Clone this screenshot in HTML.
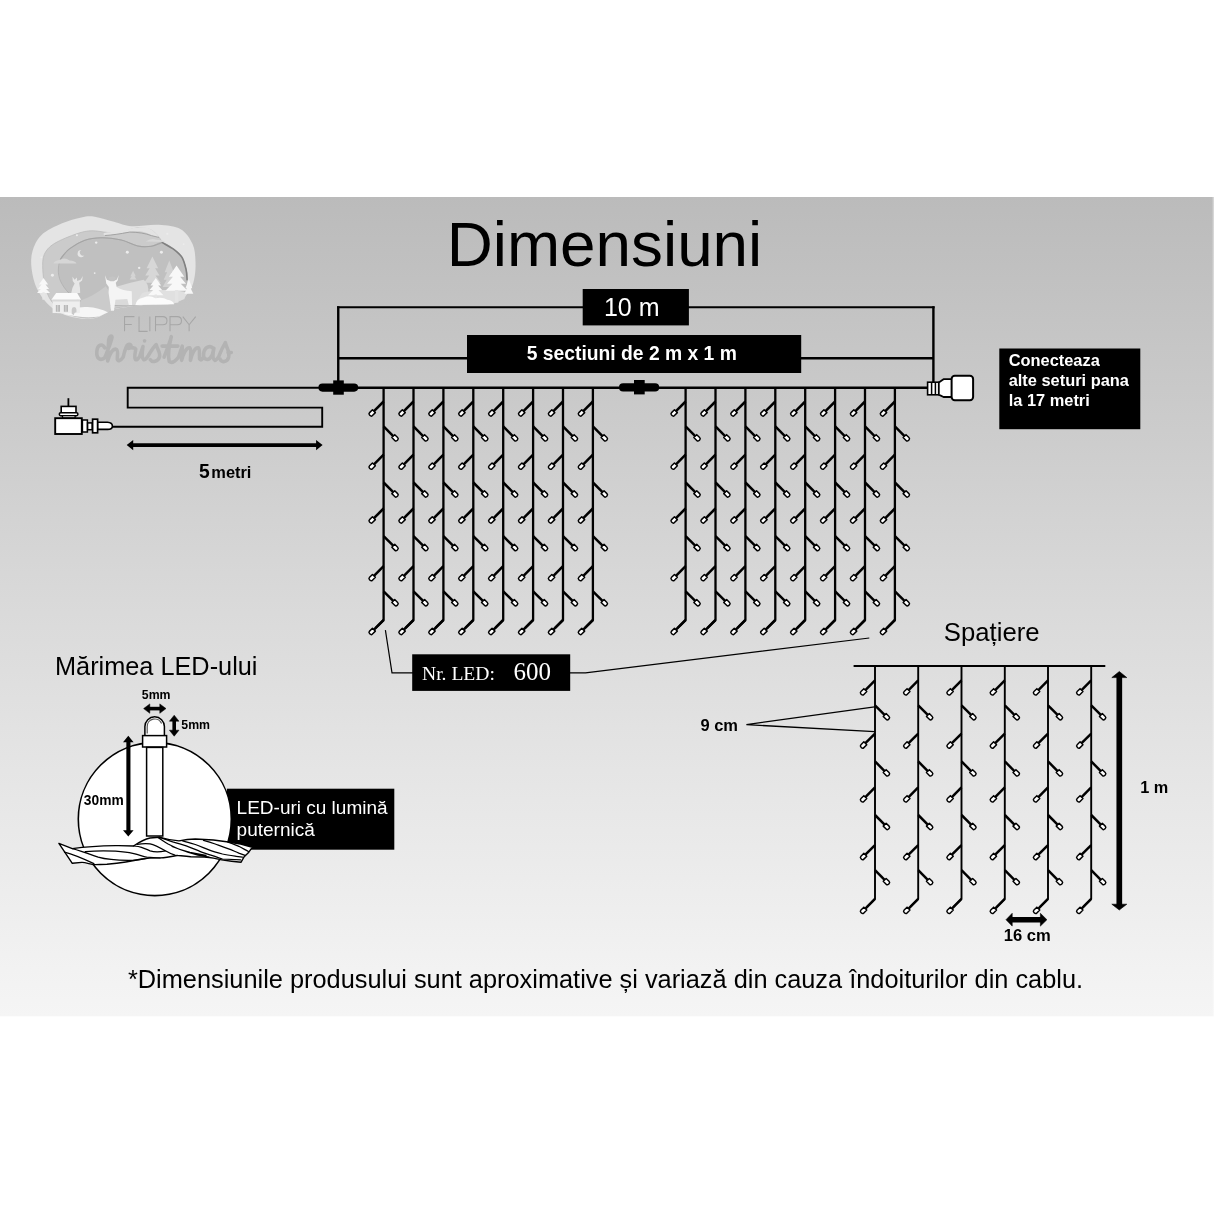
<!DOCTYPE html>
<html><head><meta charset="utf-8"><title>Dimensiuni</title>
<style>
html,body{margin:0;padding:0;background:#fff;}
body{width:1214px;height:1214px;overflow:hidden;font-family:"Liberation Sans",sans-serif;}
svg{display:block;position:absolute;left:0;top:0;will-change:transform;}
text{font-family:"Liberation Sans",sans-serif;fill:#000;}
.b{font-weight:bold;}
.w{fill:#fff;}
.ser{font-family:"Liberation Serif",serif;}
.s1{stroke:#000;stroke-width:2.3;fill:none;}
.s2{stroke:#000;stroke-width:1.9;fill:none;}
.ln{stroke:#000;fill:none;}
.wb{fill:#fff;stroke:#000;}
</style></head><body>
<svg width="1214" height="1214" viewBox="0 0 1214 1214">
<defs>
<linearGradient id="bg" x1="0" y1="0" x2="0" y2="1">
<stop offset="0" stop-color="#bbbbbb"/><stop offset="0.285" stop-color="#cccccc"/><stop offset="0.507" stop-color="#dadada"/><stop offset="0.736" stop-color="#e7e7e7"/><stop offset="1" stop-color="#f5f5f5"/>
</linearGradient>
<g id="lR"><g transform="rotate(45)"><path d="M0 0H13.6" stroke="#000" stroke-width="2.5" fill="none"/><path d="M13.7 -2.05H17.8Q19.5 -2.05 19.5 -0.4V0.4Q19.5 2.05 17.8 2.05H13.7Z" fill="#fff" stroke="#000" stroke-width="1.45" stroke-linejoin="round"/></g></g>
<g id="lL"><g transform="rotate(135)"><path d="M0 0H13.6" stroke="#000" stroke-width="2.5" fill="none"/><path d="M13.7 -2.05H17.8Q19.5 -2.05 19.5 -0.4V0.4Q19.5 2.05 17.8 2.05H13.7Z" fill="#fff" stroke="#000" stroke-width="1.45" stroke-linejoin="round"/></g></g>
<filter id="lb" x="-5%" y="-5%" width="110%" height="110%"><feGaussianBlur stdDeviation="4.5"/></filter>
</defs>
<rect x="0" y="197" width="1214" height="819.3" fill="url(#bg)"/>
<rect x="1212.6" y="197" width="1.4" height="819.3" fill="#fff" opacity="0.4"/>

<!-- LOGO -->
<g id="logo">
<g transform="translate(25,210) scale(0.14828)" filter="url(#lb)"><path d="M380 50C417 42 433 40 470 45C507 50 558 69 600 80C642 91 670 107 720 110C770 113 845 97 900 100C955 103 1012 108 1050 130C1088 152 1113 193 1130 230C1147 267 1148 310 1150 350C1152 390 1148 435 1140 470C1132 505 1123 533 1100 560C1077 587 1050 617 1000 630C950 643 867 633 800 640C733 647 650 657 600 670C550 683 533 709 500 720C467 731 442 738 400 735C358 732 292 718 250 700C208 682 178 658 150 630C122 602 98 568 80 530C62 492 50 442 45 400C40 358 39 318 50 280C61 242 77 202 110 170C143 138 205 110 250 90C295 70 343 58 380 50Z" fill="#e4e4e4"/><path d="M130 300C143 271 163 248 200 225C237 202 308 174 350 160C392 146 415 141 450 140C485 139 527 150 560 152C593 154 617 155 650 150C683 145 727 122 760 120C793 118 826 124 850 135C874 146 892 170 905 185C918 200 914 203 930 222C946 241 982 262 1000 300C1018 338 1040 400 1040 450C1040 500 1040 569 1000 600C960 631 867 624 800 635C733 646 650 652 600 665C550 678 533 704 500 715C467 726 440 732 400 728C360 724 298 710 260 690C222 670 196 640 175 610C154 580 144 545 135 510C126 475 121 435 120 400C119 365 117 329 130 300Z" fill="#cbcbcb" stroke="#b9b9b9" stroke-width="5"/><path d="M540 153C557 148 607 148 640 143C673 138 711 124 739 120C767 116 786 114 806 117C826 120 843 126 859 137C875 148 904 178 903 183C902 188 871 176 853 170C835 164 818 151 793 147C768 143 737 143 706 146C675 149 634 161 606 165C578 169 551 172 540 170C529 168 523 158 540 153Z" fill="#e3e3e3"/><path d="M540 172Q606 168 706 149Q793 150 853 173L903 185" fill="none" stroke="#9c9c9c" stroke-width="6"/><path d="M240 330C252 304 273 283 300 262C327 241 363 218 400 205C437 192 478 187 520 187C562 187 610 194 650 203C690 212 727 235 760 242C793 249 822 249 850 245C878 241 900 216 926 220C952 224 984 250 1006 267C1028 284 1046 298 1059 320C1072 342 1080 375 1086 400C1092 425 1095 443 1093 470C1091 497 1090 535 1075 560C1060 585 1062 607 1000 620C938 633 792 637 700 640C608 643 513 650 450 640C387 630 353 603 320 580C287 557 266 527 250 500C234 473 227 448 225 420C223 392 228 356 240 330Z" fill="#c0c0c0" stroke="#adadad" stroke-width="5"/><path d="M240 330C250 319 273 283 300 262C327 241 363 218 400 205C437 192 478 187 520 187C562 187 610 194 650 203C690 212 727 235 760 242C793 249 822 249 850 245C878 241 913 224 926 220" fill="none" stroke="#a4a4a4" stroke-width="7" stroke-linecap="round"/><path d="M926 220C939 228 984 250 1006 267C1028 284 1046 298 1059 320C1072 342 1080 375 1086 400C1092 425 1092 458 1093 470" fill="none" stroke="#808080" stroke-width="11" stroke-linecap="round"/><path d="M815 213Q850 185 885 200Q930 200 945 216Z" fill="#d8d8d8"/><path d="M192 360Q200 338 240 335Q270 318 300 340Q340 342 347 360Z" fill="#d6d6d6"/><path d="M380 270A24 24 0 1 0 400 305A20 20 0 0 1 380 270Z" fill="#e6e6e6"/><circle cx="480" cy="220" r="8" fill="#ececec"/><circle cx="690" cy="285" r="10" fill="#ececec"/><circle cx="920" cy="285" r="10" fill="#ececec"/><circle cx="185" cy="440" r="10" fill="#ececec"/><circle cx="470" cy="425" r="6" fill="#ececec"/><circle cx="770" cy="390" r="8" fill="#ececec"/><circle cx="350" cy="170" r="7" fill="#ececec"/><circle cx="960" cy="160" r="7" fill="#ececec"/><circle cx="110" cy="320" r="6" fill="#ececec"/><circle cx="1070" cy="230" r="6" fill="#ececec"/><path d="M859 313L898 392H820ZM859 362L907 441H811ZM859 411L915 490H803Z" fill="#d7d7d7"/><path d="M973 340L1004 420H942ZM973 390L1011 470H935ZM973 440L1018 520H928Z" fill="#d3d3d3"/><path d="M729 410L747 446H711ZM729 432L752 468H706Z" fill="#d4d4d4"/><path d="M610 520Q700 490 800 470Q840 500 830 560L740 640H600Z" fill="#dadada"/><path d="M320 450L335 470L350 455L352 478L375 470L390 445L385 475L365 490Q372 520 372 560H312Q318 520 335 495L322 478Z" fill="#e6e6e6"/><path d="M375 610Q450 590 545 515L575 560V680H480L375 660Z" fill="#cbcbcb"/><path d="M540 440L552 470L575 478L600 478L620 468L632 438L625 475L612 490L618 520Q660 545 720 548L722 640L700 640L690 600L610 605L600 680H580L570 600Q560 560 565 520L548 495Z" fill="#f4f4f4"/><path d="M565 455Q590 440 612 458L600 480H575Z" fill="#c4c4c4"/><path d="M740 640L790 560Q860 535 1000 540L1092 555L1075 600L1000 632Z" fill="#e0e0e0"/><path d="M1022 375L1074 451H970ZM1022 422L1086 498H958ZM1022 469L1097 545H947Z" fill="#f8f8f8"/><rect x="1012" y="540" width="22" height="85" fill="#e4e4e4"/><path d="M882 458L918 510H846ZM882 490L926 542H838ZM882 523L934 575H830Z" fill="#f8f8f8"/><rect x="874" y="570" width="16" height="65" fill="#e4e4e4"/><path d="M1105 465L1128 527H1082ZM1105 503L1135 565H1075Z" fill="#f6f6f6"/><path d="M745 640Q750 600 800 590Q840 570 880 595Q930 585 960 605Q1000 610 1005 635Z" fill="#fbfbfb"/><path d="M125 458L156 503H94ZM125 486L162 532H88ZM125 515L169 560H81Z" fill="#f8f8f8"/><rect x="117" y="555" width="16" height="50" fill="#e6e6e6"/><path d="M180 690L260 700Q330 650 420 655Q500 660 560 690L500 718Q400 735 250 700Z" fill="#f6f6f6"/><path d="M178 605L210 560H352L378 605Z" fill="#fafafa"/><rect x="186" y="605" width="184" height="90" fill="#eeeeee"/><path d="M186 605H370V617H186Z" fill="#d8d8d8"/><path d="M208 640H236V686H208ZM262 640H290V686H262Z" fill="#b8b8b8"/><path d="M221 640V686M276 640V686" stroke="#eee" stroke-width="4"/><path d="M315 700V672Q315 655 331 655Q347 655 347 672V690Q330 690 330 710Z" fill="#c9c9c9"/></g><g transform="translate(85,305) scale(0.1318)" fill="none" stroke-linecap="round" stroke-linejoin="round"><path d="M375 88H300V200M300 148H355M410 88V200H475M492 88V200M535 200V88H590Q622 88 622 119Q622 150 590 150H535M645 200V88H700Q732 88 732 119Q732 150 700 150H645M742 88L790 150L840 88M790 150V200" stroke="#a6a6a6" stroke-width="8" stroke-linecap="butt" stroke-linejoin="miter"/><path d="M150 325C130 290 95 300 90 350C85 400 110 430 150 400C170 350 200 280 205 245C205 228 185 232 180 262C175 320 172 380 172 425C185 380 205 330 235 335C255 340 245 380 245 410C250 430 270 425 290 395C300 350 310 320 320 305C340 290 355 300 345 320C335 335 315 330 320 310M345 320C360 330 380 320 385 335C380 370 370 400 385 415C395 420 405 405 415 390C425 360 435 330 440 315C435 350 425 400 445 415C460 420 470 400 480 385C500 350 520 320 540 300C545 330 575 360 565 395C555 430 510 440 495 415M600 395C620 340 650 270 655 240C640 300 625 380 640 430C660 445 690 420 710 395M585 312H705M710 395C722 360 732 330 738 312C738 350 733 390 733 420C745 370 770 320 795 325C810 335 800 380 800 420C810 370 835 320 860 325C875 335 865 390 870 410C880 425 890 410 900 395M975 332C950 300 905 320 900 370C895 420 940 430 965 380C970 360 975 340 978 328C970 370 965 410 985 420C995 420 1005 405 1015 390C1030 350 1050 310 1065 285C1070 320 1100 350 1090 395C1080 435 1035 440 1025 410M1085 360H1110" stroke="#b3b3b3" stroke-width="27"/><circle cx="452" cy="272" r="14" fill="#b3b3b3"/></g>
</g>

<!-- TITLE -->
<text x="604.5" y="265.8" font-size="63.8" text-anchor="middle">Dimensiuni</text>

<!-- top bracket lines -->
<path class="ln" stroke-width="2.1" d="M337.1 307.3H934.6"/>
<path class="ln" stroke-width="2.4" d="M338.25 387V306.3M933.4 387V306.3"/>
<path class="ln" stroke-width="2.5" d="M338.3 358.2H933.4"/>
<!-- main line -->
<path class="ln" stroke-width="2.5" d="M320 387.7H928"/>
<!-- feed cable -->
<path class="ln" stroke-width="1.9" d="M320 387.8H127.7V407.6H322.2V426.8H112"/>

<!-- 10 m box -->
<rect x="582.7" y="289" width="106.2" height="36.4" fill="#000"/>
<text x="631.7" y="315.7" font-size="25" text-anchor="middle" class="w">10 m</text>
<!-- sections box -->
<rect x="467" y="335" width="334.2" height="38" fill="#000"/>
<text x="631.8" y="360.2" font-size="19.3" text-anchor="middle" class="w b">5 sectiuni de 2 m x 1 m</text>

<!-- connector 1 -->
<rect x="318.4" y="383.5" width="39.8" height="8.2" rx="4.1" fill="#000"/>
<rect x="333.2" y="380.4" width="10.6" height="14.3" fill="#000"/>
<!-- connector 2 -->
<rect x="619" y="383.3" width="40.2" height="8.2" rx="4.1" fill="#000"/>
<rect x="634" y="380" width="10.7" height="14.4" fill="#000"/>

<!-- strands main -->
<path d="M383.6 387.6V620.0l-8 8" class="s1"/>
<use href="#lL" x="383.6" y="401.5"/>
<use href="#lL" x="383.6" y="454.7"/>
<use href="#lL" x="383.6" y="508.5"/>
<use href="#lL" x="383.6" y="566.2"/>
<use href="#lR" x="383.6" y="426.4"/>
<use href="#lR" x="383.6" y="482.5"/>
<use href="#lR" x="383.6" y="536.1"/>
<use href="#lR" x="383.6" y="591.3"/>
<use href="#lL" x="383.6" y="620.0"/>
<path d="M413.5 387.6V620.0l-8 8" class="s1"/>
<use href="#lL" x="413.5" y="401.5"/>
<use href="#lL" x="413.5" y="454.7"/>
<use href="#lL" x="413.5" y="508.5"/>
<use href="#lL" x="413.5" y="566.2"/>
<use href="#lR" x="413.5" y="426.4"/>
<use href="#lR" x="413.5" y="482.5"/>
<use href="#lR" x="413.5" y="536.1"/>
<use href="#lR" x="413.5" y="591.3"/>
<use href="#lL" x="413.5" y="620.0"/>
<path d="M443.4 387.6V620.0l-8 8" class="s1"/>
<use href="#lL" x="443.4" y="401.5"/>
<use href="#lL" x="443.4" y="454.7"/>
<use href="#lL" x="443.4" y="508.5"/>
<use href="#lL" x="443.4" y="566.2"/>
<use href="#lR" x="443.4" y="426.4"/>
<use href="#lR" x="443.4" y="482.5"/>
<use href="#lR" x="443.4" y="536.1"/>
<use href="#lR" x="443.4" y="591.3"/>
<use href="#lL" x="443.4" y="620.0"/>
<path d="M473.3 387.6V620.0l-8 8" class="s1"/>
<use href="#lL" x="473.3" y="401.5"/>
<use href="#lL" x="473.3" y="454.7"/>
<use href="#lL" x="473.3" y="508.5"/>
<use href="#lL" x="473.3" y="566.2"/>
<use href="#lR" x="473.3" y="426.4"/>
<use href="#lR" x="473.3" y="482.5"/>
<use href="#lR" x="473.3" y="536.1"/>
<use href="#lR" x="473.3" y="591.3"/>
<use href="#lL" x="473.3" y="620.0"/>
<path d="M503.2 387.6V620.0l-8 8" class="s1"/>
<use href="#lL" x="503.2" y="401.5"/>
<use href="#lL" x="503.2" y="454.7"/>
<use href="#lL" x="503.2" y="508.5"/>
<use href="#lL" x="503.2" y="566.2"/>
<use href="#lR" x="503.2" y="426.4"/>
<use href="#lR" x="503.2" y="482.5"/>
<use href="#lR" x="503.2" y="536.1"/>
<use href="#lR" x="503.2" y="591.3"/>
<use href="#lL" x="503.2" y="620.0"/>
<path d="M533.1 387.6V620.0l-8 8" class="s1"/>
<use href="#lL" x="533.1" y="401.5"/>
<use href="#lL" x="533.1" y="454.7"/>
<use href="#lL" x="533.1" y="508.5"/>
<use href="#lL" x="533.1" y="566.2"/>
<use href="#lR" x="533.1" y="426.4"/>
<use href="#lR" x="533.1" y="482.5"/>
<use href="#lR" x="533.1" y="536.1"/>
<use href="#lR" x="533.1" y="591.3"/>
<use href="#lL" x="533.1" y="620.0"/>
<path d="M563.0 387.6V620.0l-8 8" class="s1"/>
<use href="#lL" x="563.0" y="401.5"/>
<use href="#lL" x="563.0" y="454.7"/>
<use href="#lL" x="563.0" y="508.5"/>
<use href="#lL" x="563.0" y="566.2"/>
<use href="#lR" x="563.0" y="426.4"/>
<use href="#lR" x="563.0" y="482.5"/>
<use href="#lR" x="563.0" y="536.1"/>
<use href="#lR" x="563.0" y="591.3"/>
<use href="#lL" x="563.0" y="620.0"/>
<path d="M592.9 387.6V620.0l-8 8" class="s1"/>
<use href="#lL" x="592.9" y="401.5"/>
<use href="#lL" x="592.9" y="454.7"/>
<use href="#lL" x="592.9" y="508.5"/>
<use href="#lL" x="592.9" y="566.2"/>
<use href="#lR" x="592.9" y="426.4"/>
<use href="#lR" x="592.9" y="482.5"/>
<use href="#lR" x="592.9" y="536.1"/>
<use href="#lR" x="592.9" y="591.3"/>
<use href="#lL" x="592.9" y="620.0"/>
<path d="M685.6 387.6V620.0l-8 8" class="s1"/>
<use href="#lL" x="685.6" y="401.5"/>
<use href="#lL" x="685.6" y="454.7"/>
<use href="#lL" x="685.6" y="508.5"/>
<use href="#lL" x="685.6" y="566.2"/>
<use href="#lR" x="685.6" y="426.4"/>
<use href="#lR" x="685.6" y="482.5"/>
<use href="#lR" x="685.6" y="536.1"/>
<use href="#lR" x="685.6" y="591.3"/>
<use href="#lL" x="685.6" y="620.0"/>
<path d="M715.5 387.6V620.0l-8 8" class="s1"/>
<use href="#lL" x="715.5" y="401.5"/>
<use href="#lL" x="715.5" y="454.7"/>
<use href="#lL" x="715.5" y="508.5"/>
<use href="#lL" x="715.5" y="566.2"/>
<use href="#lR" x="715.5" y="426.4"/>
<use href="#lR" x="715.5" y="482.5"/>
<use href="#lR" x="715.5" y="536.1"/>
<use href="#lR" x="715.5" y="591.3"/>
<use href="#lL" x="715.5" y="620.0"/>
<path d="M745.4 387.6V620.0l-8 8" class="s1"/>
<use href="#lL" x="745.4" y="401.5"/>
<use href="#lL" x="745.4" y="454.7"/>
<use href="#lL" x="745.4" y="508.5"/>
<use href="#lL" x="745.4" y="566.2"/>
<use href="#lR" x="745.4" y="426.4"/>
<use href="#lR" x="745.4" y="482.5"/>
<use href="#lR" x="745.4" y="536.1"/>
<use href="#lR" x="745.4" y="591.3"/>
<use href="#lL" x="745.4" y="620.0"/>
<path d="M775.3 387.6V620.0l-8 8" class="s1"/>
<use href="#lL" x="775.3" y="401.5"/>
<use href="#lL" x="775.3" y="454.7"/>
<use href="#lL" x="775.3" y="508.5"/>
<use href="#lL" x="775.3" y="566.2"/>
<use href="#lR" x="775.3" y="426.4"/>
<use href="#lR" x="775.3" y="482.5"/>
<use href="#lR" x="775.3" y="536.1"/>
<use href="#lR" x="775.3" y="591.3"/>
<use href="#lL" x="775.3" y="620.0"/>
<path d="M805.2 387.6V620.0l-8 8" class="s1"/>
<use href="#lL" x="805.2" y="401.5"/>
<use href="#lL" x="805.2" y="454.7"/>
<use href="#lL" x="805.2" y="508.5"/>
<use href="#lL" x="805.2" y="566.2"/>
<use href="#lR" x="805.2" y="426.4"/>
<use href="#lR" x="805.2" y="482.5"/>
<use href="#lR" x="805.2" y="536.1"/>
<use href="#lR" x="805.2" y="591.3"/>
<use href="#lL" x="805.2" y="620.0"/>
<path d="M835.1 387.6V620.0l-8 8" class="s1"/>
<use href="#lL" x="835.1" y="401.5"/>
<use href="#lL" x="835.1" y="454.7"/>
<use href="#lL" x="835.1" y="508.5"/>
<use href="#lL" x="835.1" y="566.2"/>
<use href="#lR" x="835.1" y="426.4"/>
<use href="#lR" x="835.1" y="482.5"/>
<use href="#lR" x="835.1" y="536.1"/>
<use href="#lR" x="835.1" y="591.3"/>
<use href="#lL" x="835.1" y="620.0"/>
<path d="M865.0 387.6V620.0l-8 8" class="s1"/>
<use href="#lL" x="865.0" y="401.5"/>
<use href="#lL" x="865.0" y="454.7"/>
<use href="#lL" x="865.0" y="508.5"/>
<use href="#lL" x="865.0" y="566.2"/>
<use href="#lR" x="865.0" y="426.4"/>
<use href="#lR" x="865.0" y="482.5"/>
<use href="#lR" x="865.0" y="536.1"/>
<use href="#lR" x="865.0" y="591.3"/>
<use href="#lL" x="865.0" y="620.0"/>
<path d="M894.9 387.6V620.0l-8 8" class="s1"/>
<use href="#lL" x="894.9" y="401.5"/>
<use href="#lL" x="894.9" y="454.7"/>
<use href="#lL" x="894.9" y="508.5"/>
<use href="#lL" x="894.9" y="566.2"/>
<use href="#lR" x="894.9" y="426.4"/>
<use href="#lR" x="894.9" y="482.5"/>
<use href="#lR" x="894.9" y="536.1"/>
<use href="#lR" x="894.9" y="591.3"/>
<use href="#lL" x="894.9" y="620.0"/>

<!-- end socket -->
<g>
<rect x="927.6" y="382.2" width="11.2" height="12.6" fill="#fff" stroke="#000" stroke-width="1.6"/>
<path d="M931.6 382.2V394.8M935.4 382.2V394.8" stroke="#000" stroke-width="1.5" fill="none"/>
<path d="M938.8 382.4L943.5 379.2H952V397H943.5L938.8 394.6Z" fill="#fff" stroke="#000" stroke-width="1.8" stroke-linejoin="round"/>
<rect x="951.6" y="375.8" width="21.5" height="24.4" rx="3.2" fill="#fff" stroke="#000" stroke-width="2"/>
</g>

<!-- connect box -->
<rect x="999.3" y="348.5" width="141" height="80.7" fill="#000"/>
<text font-size="16.4" class="w b"><tspan x="1008.7" y="365.7">Conecteaza</tspan><tspan x="1008.7" y="385.8">alte seturi pana</tspan><tspan x="1008.7" y="405.7">la 17 metri</tspan></text>

<!-- plug -->
<g>
<path d="M68.4 398.2V406.6" class="ln" stroke-width="1.8"/>
<rect x="61.2" y="406.4" width="14.8" height="6.4" class="wb" stroke-width="1.6"/>
<rect x="59.3" y="412.7" width="18.6" height="3" rx="1.4" class="wb" stroke-width="1.5"/>
<rect x="62.5" y="415.7" width="12.6" height="2.4" class="wb" stroke-width="1.3"/>
<rect x="55.2" y="418.2" width="26.6" height="15.8" class="wb" stroke-width="1.9"/>
<rect x="82.4" y="420" width="5" height="12" class="wb" stroke-width="1.5"/>
<rect x="87.6" y="422.9" width="4.6" height="6.8" class="wb" stroke-width="1.5"/>
<rect x="92.6" y="419.2" width="5" height="13.6" class="wb" stroke-width="1.7"/>
<path d="M97.8 422.3H107.5Q112.4 422.6 112.4 426.2Q112.4 429.2 107.5 429.4H97.8Z" class="wb" stroke-width="1.6"/>
</g>

<!-- 5 m arrow -->
<path d="M131 445.1H318" class="ln" stroke-width="3.6"/>
<path d="M126.7 445.1L133.2 439.9V450.3Z M322.6 445.1L316.1 439.9V450.3Z" fill="#000"/>
<text y="477.5" class="b"><tspan x="199" font-size="19.3">5</tspan><tspan font-size="16.4" dx="1.6">metri</tspan></text>

<!-- Nr LED -->
<path class="ln" stroke-width="1.2" d="M385.4 630.2L392 672.8H413"/>
<path class="ln" stroke-width="1.2" d="M570 672.9H585.5L869.3 638"/>
<rect x="412.2" y="654.3" width="158" height="36.6" fill="#000"/>
<text x="422" y="679.6" font-size="19.6" class="w ser">Nr. LED:</text>
<text x="513.6" y="679.6" font-size="25" class="w ser">600</text>

<!-- spacing diagram -->
<text x="991.7" y="641.1" font-size="25.7" text-anchor="middle">Spațiere</text>
<path class="ln" stroke-width="2.1" d="M853.6 666H1105.3"/>
<path d="M875.0 666.0V898.9l-8 8" class="s2"/>
<use href="#lL" x="875.0" y="680.4"/>
<use href="#lL" x="875.0" y="733.6"/>
<use href="#lL" x="875.0" y="787.4"/>
<use href="#lL" x="875.0" y="845.1"/>
<use href="#lR" x="875.0" y="705.3"/>
<use href="#lR" x="875.0" y="761.4"/>
<use href="#lR" x="875.0" y="815.0"/>
<use href="#lR" x="875.0" y="870.2"/>
<use href="#lL" x="875.0" y="898.9"/>
<path d="M918.2 666.0V898.9l-8 8" class="s2"/>
<use href="#lL" x="918.2" y="680.4"/>
<use href="#lL" x="918.2" y="733.6"/>
<use href="#lL" x="918.2" y="787.4"/>
<use href="#lL" x="918.2" y="845.1"/>
<use href="#lR" x="918.2" y="705.3"/>
<use href="#lR" x="918.2" y="761.4"/>
<use href="#lR" x="918.2" y="815.0"/>
<use href="#lR" x="918.2" y="870.2"/>
<use href="#lL" x="918.2" y="898.9"/>
<path d="M961.5 666.0V898.9l-8 8" class="s2"/>
<use href="#lL" x="961.5" y="680.4"/>
<use href="#lL" x="961.5" y="733.6"/>
<use href="#lL" x="961.5" y="787.4"/>
<use href="#lL" x="961.5" y="845.1"/>
<use href="#lR" x="961.5" y="705.3"/>
<use href="#lR" x="961.5" y="761.4"/>
<use href="#lR" x="961.5" y="815.0"/>
<use href="#lR" x="961.5" y="870.2"/>
<use href="#lL" x="961.5" y="898.9"/>
<path d="M1004.8 666.0V898.9l-8 8" class="s2"/>
<use href="#lL" x="1004.8" y="680.4"/>
<use href="#lL" x="1004.8" y="733.6"/>
<use href="#lL" x="1004.8" y="787.4"/>
<use href="#lL" x="1004.8" y="845.1"/>
<use href="#lR" x="1004.8" y="705.3"/>
<use href="#lR" x="1004.8" y="761.4"/>
<use href="#lR" x="1004.8" y="815.0"/>
<use href="#lR" x="1004.8" y="870.2"/>
<use href="#lL" x="1004.8" y="898.9"/>
<path d="M1048.0 666.0V898.9l-8 8" class="s2"/>
<use href="#lL" x="1048.0" y="680.4"/>
<use href="#lL" x="1048.0" y="733.6"/>
<use href="#lL" x="1048.0" y="787.4"/>
<use href="#lL" x="1048.0" y="845.1"/>
<use href="#lR" x="1048.0" y="705.3"/>
<use href="#lR" x="1048.0" y="761.4"/>
<use href="#lR" x="1048.0" y="815.0"/>
<use href="#lR" x="1048.0" y="870.2"/>
<use href="#lL" x="1048.0" y="898.9"/>
<path d="M1091.2 666.0V898.9l-8 8" class="s2"/>
<use href="#lL" x="1091.2" y="680.4"/>
<use href="#lL" x="1091.2" y="733.6"/>
<use href="#lL" x="1091.2" y="787.4"/>
<use href="#lL" x="1091.2" y="845.1"/>
<use href="#lR" x="1091.2" y="705.3"/>
<use href="#lR" x="1091.2" y="761.4"/>
<use href="#lR" x="1091.2" y="815.0"/>
<use href="#lR" x="1091.2" y="870.2"/>
<use href="#lL" x="1091.2" y="898.9"/>
<path class="ln" stroke-width="1.35" d="M874.6 706.8L746.4 724.6L874.6 731.6"/>
<text x="700.4" y="731.2" font-size="16.5" class="b">9 cm</text>
<path d="M1119.3 676.5V905" class="ln" stroke-width="5.7"/>
<path d="M1119.3 671.5L1126.8 677.6H1111.8Z M1119.3 910L1126.8 904.2H1111.8Z" fill="#000" stroke="#000" stroke-width="0.6" stroke-linejoin="round"/>
<text x="1140.2" y="793" font-size="16.3" class="b">1 m</text>
<path d="M1010 919.7H1043" class="ln" stroke-width="5.6"/>
<path d="M1006 919.7L1012.2 913.3V926.1Z M1046.9 919.7L1040.4 913.3V926.1Z" fill="#000" stroke="#000" stroke-width="0.6" stroke-linejoin="round"/>
<text x="1027.3" y="941" font-size="16.6" text-anchor="middle" class="b">16 cm</text>

<!-- LED size -->
<text x="55" y="674.9" font-size="25.3">Mărimea LED-ului</text>
<rect x="226.9" y="788.7" width="167.4" height="61" fill="#000"/>
<circle cx="154.8" cy="819.1" r="76.5" class="wb" stroke-width="1.6"/>
<text font-size="19" class="w"><tspan x="236.6" y="813.7">LED-uri cu lumină</tspan><tspan x="236.6" y="835.6">puternică</tspan></text>
<!-- led drawing -->
<path d="M144.9 736V726.6A9.75 9.75 0 0 1 164.4 726.6V736Z" class="wb" stroke-width="1.5"/>
<path d="M147.2 733.5V726.8A7.5 7.5 0 0 1 161.6 723.6" fill="none" stroke="#555" stroke-width="1.2"/>
<rect x="142.6" y="735.6" width="24" height="11.4" class="wb" stroke-width="1.5"/>
<rect x="146.6" y="747.4" width="16.2" height="88.6" class="wb" stroke-width="1.5"/>
<!-- 5mm labels -->
<text x="156.2" y="699" font-size="12.3" text-anchor="middle" class="b">5mm</text>
<path d="M147.5 708.6H162.5" class="ln" stroke-width="3.6"/>
<path d="M143.6 708.6L149.8 703.9V713.3Z M166 708.6L159.8 703.9V713.3Z" fill="#000" stroke="#000" stroke-width="0.5" stroke-linejoin="round"/>
<path d="M174.2 719.5V732" class="ln" stroke-width="3.6"/>
<path d="M174.2 715.2L179 721.2H169.4Z M174.2 736.2L179 730.2H169.4Z" fill="#000" stroke="#000" stroke-width="0.5" stroke-linejoin="round"/>
<text x="181.3" y="728.6" font-size="12.3" class="b">5mm</text>
<!-- 30mm -->
<path d="M128.4 740V832" class="ln" stroke-width="4.1"/>
<path d="M128.3 735.8L133.6 742.2H123Z M128.3 836.6L133.6 830.2H123Z" fill="#000"/>
<text x="83.8" y="805.3" font-size="13.8" class="b">30mm</text>
<!-- twisted cable -->
<g id="cable">
<path d="M58.9 843.4L72.3 848.6C80 847.5 100 845.8 115.5 845.6C125 845.5 130 845.8 133.5 846C138 843 144 839.3 150 838L159 837.2C165 839 172 840.5 179 840.9C183 840 190 839 195.3 839L213.4 840C222 841 232 842.5 240.6 844L252.4 847.2L248.8 852.2L244.2 856.7L241.1 862.2L231.6 861.2C225 860.5 218 859.3 213.4 858.1C208 857 200 856.7 190.8 856.7C185 856.5 180 855.6 177.2 855.4C172 856.5 165 858 160 857.9C150 858 145 858.5 141.5 859C133 861 120 863 106.9 864.2C100 864.6 96 864.7 93.1 864.6C88 863.5 85 862.3 81.8 862.4L72.3 863.3Z" fill="#fff" stroke="#000" stroke-width="1.4" stroke-linejoin="round"/><path d="M72.3 848.6C81 850.8 92 855 98.2 857.2C106 859.5 120 860.5 132.8 860.3C138 860 143 859.3 146.7 858.5M64.5 852.1C70 853.5 82 858 93.9 863.6M85.3 851.6C95 850.8 108 850.8 115.5 851.2C123 851.7 128 852.3 132.8 853.4C138 854.7 143 856.2 146.7 857.2L160 858M133.5 846C137 846.3 140 846.8 141.5 847.3C145 848.5 148 850 150.1 850.8C154 852 158 852.3 165.4 850.9M137.2 844.3C142 843.5 147 843.5 150.1 843.8C154 844.5 158 846.5 166.3 851.3C170 853.5 172 854.2 175 855.2M158.2 837.7C162 840 165 842.3 168.1 844C172 846 176 848 179.9 849.5C185 851.3 190 853 195.3 854.4C200 855.6 205 856.5 208.9 857.2M159.1 837.2C164 838.8 168 840.3 172.7 841.8C177 843 182 844.4 186.2 845.8C191 847.5 195 849.3 199.8 851.3C204 853 209 854.5 213.4 855.8C216 856.8 219 858 222.5 859L240.6 859.9M182.6 840.9C187 842 191 843.2 195.3 844.5C200 846.2 204 848 208.9 849.9C213 851.4 218 852.8 222.5 854C227 855 232 855.7 236.1 856.3L242.4 857.2M203.5 840.4C207 841.4 211 842.6 215.2 844C219 845.4 223 847 227.9 848.6C232 850 235 851.6 238.8 853.1L245.1 855.4M227.9 842.2C232 843.5 235 844.8 238.8 846.3C242 847.8 245 849.7 248.8 851.7M172 846.5C178 849 184 850.8 190 852.3C196 853.6 201 854.5 206 855.3" fill="none" stroke="#000" stroke-width="1.25" stroke-linecap="round"/>
</g>

<!-- footer -->
<text x="605.5" y="988" font-size="25.35" text-anchor="middle">*Dimensiunile produsului sunt aproximative și variază din cauza îndoiturilor din cablu.</text>
</svg>
</body></html>
